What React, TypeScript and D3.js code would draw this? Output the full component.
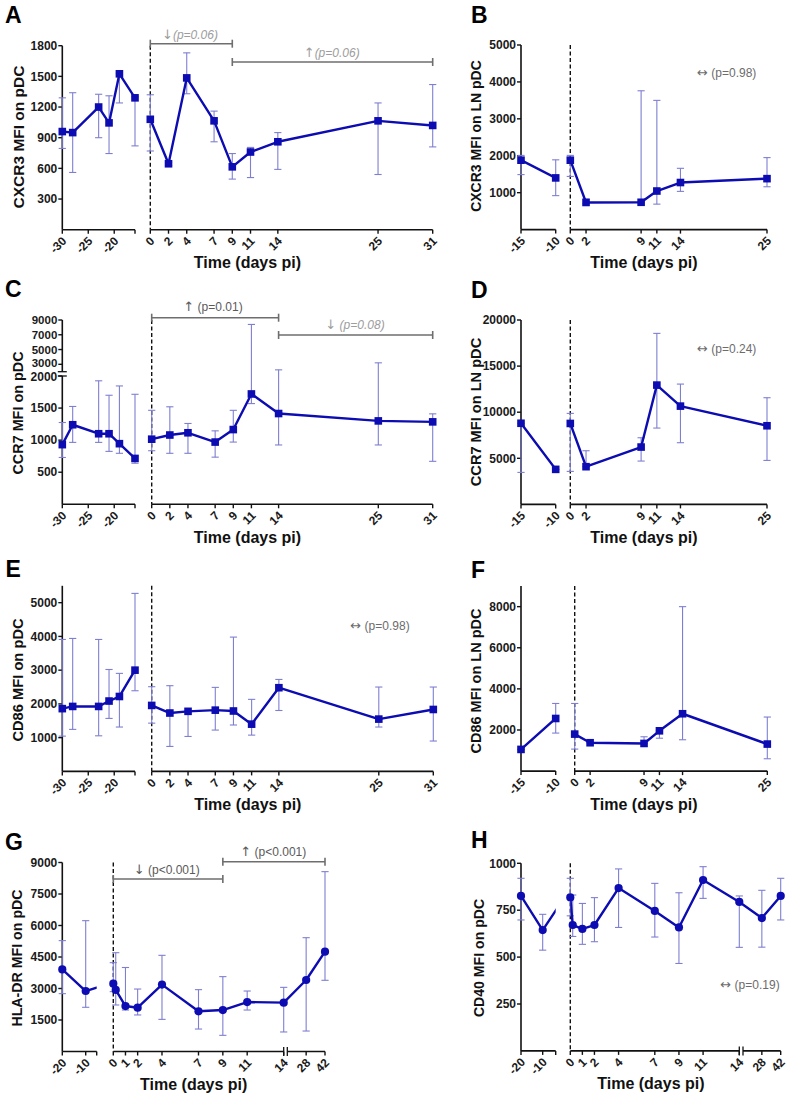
import React from "react";
import * as d3 from "d3";

// ---------------- time points & tick labels ----------------
const timesLong = [-30, -28, -23, -21, -19, -16, 0, 2, 4, 7, 9, 11, 14, 25, 31];
const timesLN = [-15, -10, 0, 2, 9, 11, 14, 25];
const timesGH = [-20, -10, 0, 0.2, 1, 2, 4, 7, 9, 11, 14, 28, 42];

const ticksPreLong = [-30, -25, -20];
const ticksPostLong = [0, 2, 4, 7, 9, 11, 14, 25, 31];
const ticksPreLN = [-15, -10];
const ticksPostLN = [0, 2, 9, 11, 14, 25];
const ticksPreGH = [-20, -10];
const ticksPostGH = [0, 1, 2, 4, 7, 9, 11, 14];
const ticksLateGH = [28, 42];

// ---------------- y ticks ----------------
const yTicksA = [300, 600, 900, 1200, 1500, 1800];
const yTicksB = [1000, 2000, 3000, 4000, 5000];
const yTicksCLow = [500, 1000, 1500, 2000];
const yTicksCHigh = [3000, 5000, 7000, 9000];
const yTicksD = [5000, 10000, 15000, 20000];
const yTicksE = [1000, 2000, 3000, 4000, 5000];
const yTicksF = [2000, 4000, 6000, 8000];
const yTicksG = [1500, 3000, 4500, 6000, 7500, 9000];
const yTicksH = [250, 500, 750, 1000];

// ---------------- A: CXCR3 MFI on pDC ----------------
const cxcr3Mean = [960, 950, 1200, 1045, 1525, 1290, 1080, 645, 1485, 1065, 615, 760, 860, 1065, 1020];
const cxcr3Upper = [1290, 1340, 1325, 1310, 1530, 1300, 1320, 660, 1730, 1160, 745, 805, 950, 1240, 1420];
const cxcr3Lower = [795, 560, 900, 745, 1240, 820, 770, 630, 1330, 860, 495, 510, 590, 540, 810];

// ---------------- B: CXCR3 MFI on LN pDC ----------------
const cxcr3LNMean = [1880, 1400, 1880, 735, 740, 1045, 1275, 1380];
const cxcr3LNUpper = [2010, 1890, 2010, 830, 3760, 3500, 1660, 1950];
const cxcr3LNLower = [1490, 920, 1440, 700, 740, 690, 1035, 1160];

// ---------------- C: CCR7 MFI on pDC ----------------
const ccr7Mean = [930, 1240, 1100, 1100, 945, 715, 1015, 1080, 1115, 970, 1165, 1720, 1415, 1300, 1285];
const ccr7Upper = [1275, 1525, 1925, 1700, 1845, 1715, 1465, 1520, 1260, 1145, 1465, 8400, 2250, 3200, 1410];
const ccr7Lower = [730, 965, 965, 825, 795, 640, 835, 795, 795, 735, 970, 1570, 925, 925, 670];

// ---------------- D: CCR7 MFI on LN pDC ----------------
const ccr7LNMean = [8800, 3800, 8780, 4090, 6220, 12940, 10660, 8530];
const ccr7LNUpper = [8800, 3800, 9870, 5820, 7230, 18550, 13050, 11570];
const ccr7LNLower = [3470, 3800, 3580, 4090, 4700, 8280, 6690, 4770];

// ---------------- E: CD86 MFI on pDC ----------------
const cd86Mean = [1860, 1925, 1925, 2085, 2220, 3000, 1955, 1730, 1780, 1815, 1790, 1400, 2480, 1550, 1835];
const cd86Upper = [3910, 3940, 3910, 3020, 2905, 5275, 2510, 2540, 1780, 2490, 3980, 2135, 2725, 2500, 2500];
const cd86Lower = [1045, 1245, 1055, 1570, 1315, 2390, 1430, 740, 1035, 1225, 1375, 1075, 1805, 1315, 900];

// ---------------- F: CD86 MFI on LN pDC ----------------
const cd86LNMean = [1055, 2560, 1800, 1380, 1345, 1960, 2790, 1315];
const cd86LNUpper = [1055, 3290, 3290, 1380, 1670, 1960, 8000, 2630];
const cd86LNLower = [1055, 1850, 1070, 1380, 1345, 1600, 1525, 600];

// ---------------- G: HLA-DR MFI on pDC ----------------
const hladrMean = [3910, 2880, 3230, 2930, 2165, 2085, 3185, 1915, 1975, 2355, 2325, 3405, 4755];
const hladrUpper = [5280, 6230, 4230, 4705, 4000, 2975, 4580, 2945, 3565, 2880, 3055, 5420, 8565];
const hladrLower = [2755, 2105, 2850, 2215, 1975, 1740, 1530, 1070, 770, 1975, 930, 975, 3390];

// ---------------- H: CD40 MFI on pDC ----------------
const cd40Mean = [826, 644, 818, 671, 650, 671, 868, 746, 658, 911, 794, 708, 826];
const cd40Upper = [920, 728, 920, 831, 786, 817, 970, 893, 843, 982, 826, 856, 920];
const cd40Lower = [698, 537, 720, 610, 568, 582, 658, 607, 466, 813, 552, 553, 698];

// ---------------- styles ----------------
const FONT = "'Liberation Sans', Arial, Helvetica, sans-serif";
const ARROW_FONT = "'DejaVu Sans', sans-serif";
const LINE = "#0c0cb2";
const ERR = "#7f7fd2";
const AXIS = "#111";
const BR = "#6e6e6e";
const TXT_DARK = "#5a5a5a";
const TXT_LIGHT = "#9d9d9d";
const TXT_NOTE = "#6c6c6c";
const X_TITLE = "Time (days pi)";

type Seg = { domain: [number, number]; range: [number, number]; ticks: number[]; endTick?: boolean; group: number };
type YS = { domain: [number, number]; range: [number, number]; ticks: number[] };
type Bracket = { from: number; to: number; y: number; label: string; lx: number; ly: number; italic: boolean; color: string };
type Note = { text: string; x: number; y: number };
type Cfg = {
  id: string; letterX: number; letterY: number;
  yTitle: string; yTitleX: number; yTitleY: number; yTitleSize: number;
  axisX: number; axisY: number; ys: YS[]; segs: Seg[];
  times: number[]; mean: number[]; upper: number[]; lower: number[];
  marker: "square" | "circle"; xTitleX: number; xTitleY: number;
  brackets: Bracket[]; notes: Note[]; xBreak?: [number, number];
};

const makeCfgs = (): Cfg[] => [
  {
    id: "A", letterX: 5, letterY: 23, yTitle: "CXCR3 MFI on pDC", yTitleX: 23.5, yTitleY: 137, yTitleSize: 15.5,
    axisX: 62.3, axisY: 229.7,
    ys: [{ domain: [0, 1800], range: [229.7, 45.7], ticks: yTicksA }],
    segs: [
      { domain: [-30, -16], range: [62.3, 135], ticks: ticksPreLong, endTick: true, group: 0 },
      { domain: [0, 31], range: [150.3, 432.7], ticks: ticksPostLong, group: 1 },
    ],
    times: timesLong, mean: cxcr3Mean, upper: cxcr3Upper, lower: cxcr3Lower, marker: "square",
    xTitleX: 247.5, xTitleY: 268,
    brackets: [
      { from: 0, to: 9, y: 43.7, label: "↓(p=0.06)", lx: 190, ly: 39, italic: true, color: TXT_LIGHT },
      { from: 9, to: 31, y: 62, label: "↑(p=0.06)", lx: 331.7, ly: 57, italic: true, color: TXT_LIGHT },
    ],
    notes: [],
  },
  {
    id: "B", letterX: 471, letterY: 23.3, yTitle: "CXCR3 MFI on LN pDC", yTitleX: 481, yTitleY: 136, yTitleSize: 14,
    axisX: 521, axisY: 229.6,
    ys: [{ domain: [0, 5000], range: [229.6, 45], ticks: yTicksB }],
    segs: [
      { domain: [-15, -10], range: [521, 555.7], ticks: ticksPreLN, group: 0 },
      { domain: [0, 25], range: [570.3, 767], ticks: ticksPostLN, group: 1 },
    ],
    times: timesLN, mean: cxcr3LNMean, upper: cxcr3LNUpper, lower: cxcr3LNLower, marker: "square",
    xTitleX: 644, xTitleY: 268,
    brackets: [],
    notes: [{ text: "↔ (p=0.98)", x: 726.7, y: 77 }],
  },
  {
    id: "C", letterX: 5, letterY: 296.7, yTitle: "CCR7 MFI on pDC", yTitleX: 22.5, yTitleY: 413, yTitleSize: 14.4,
    axisX: 62.3, axisY: 504.3,
    ys: [
      { domain: [0, 2000], range: [504.3, 376], ticks: yTicksCLow },
      { domain: [2000, 9000], range: [371.7, 320], ticks: yTicksCHigh },
    ],
    segs: [
      { domain: [-30, -16], range: [62.3, 135], ticks: ticksPreLong, endTick: true, group: 0 },
      { domain: [0, 31], range: [151.7, 432.7], ticks: ticksPostLong, group: 1 },
    ],
    times: timesLong, mean: ccr7Mean, upper: ccr7Upper, lower: ccr7Lower, marker: "square",
    xTitleX: 247.5, xTitleY: 542.8,
    brackets: [
      { from: 0, to: 14, y: 317.7, label: "↑ (p=0.01)", lx: 213, ly: 311, italic: false, color: TXT_DARK },
      { from: 14, to: 31, y: 335, label: "↓ (p=0.08)", lx: 355, ly: 329, italic: true, color: TXT_LIGHT },
    ],
    notes: [],
  },
  {
    id: "D", letterX: 471, letterY: 298, yTitle: "CCR7 MFI on LN pDC", yTitleX: 481, yTitleY: 412, yTitleSize: 14.6,
    axisX: 521, axisY: 504.4,
    ys: [{ domain: [0, 20000], range: [504.4, 320], ticks: yTicksD }],
    segs: [
      { domain: [-15, -10], range: [521, 555.7], ticks: ticksPreLN, group: 0 },
      { domain: [0, 25], range: [570.3, 767], ticks: ticksPostLN, group: 1 },
    ],
    times: timesLN, mean: ccr7LNMean, upper: ccr7LNUpper, lower: ccr7LNLower, marker: "square",
    xTitleX: 644, xTitleY: 542.9,
    brackets: [],
    notes: [{ text: "↔ (p=0.24)", x: 726.7, y: 352.5 }],
  },
  {
    id: "E", letterX: 5.5, letterY: 576.7, yTitle: "CD86 MFI on pDC", yTitleX: 23, yTitleY: 680, yTitleSize: 14.7,
    axisX: 62.3, axisY: 771.4,
    ys: [{ domain: [0, 5500], range: [771.4, 585.8], ticks: yTicksE }],
    segs: [
      { domain: [-30, -16], range: [62.3, 135], ticks: ticksPreLong, endTick: true, group: 0 },
      { domain: [0, 31], range: [151.7, 433.3], ticks: ticksPostLong, group: 1 },
    ],
    times: timesLong, mean: cd86Mean, upper: cd86Upper, lower: cd86Lower, marker: "square",
    xTitleX: 247.8, xTitleY: 809.5,
    brackets: [],
    notes: [{ text: "↔ (p=0.98)", x: 380, y: 629.5 }],
  },
  {
    id: "F", letterX: 471, letterY: 578, yTitle: "CD86 MFI on LN pDC", yTitleX: 481, yTitleY: 681, yTitleSize: 14.5,
    axisX: 521, axisY: 771.1,
    ys: [{ domain: [0, 9000], range: [771.1, 586.1], ticks: yTicksF }],
    segs: [
      { domain: [-15, -10], range: [521, 555.7], ticks: ticksPreLN, group: 0 },
      { domain: [0, 25], range: [574.7, 767.3], ticks: ticksPostLN, group: 1 },
    ],
    times: timesLN, mean: cd86LNMean, upper: cd86LNUpper, lower: cd86LNLower, marker: "square",
    xTitleX: 644, xTitleY: 809.5,
    brackets: [],
    notes: [],
  },
  {
    id: "G", letterX: 5, letterY: 850, yTitle: "HLA-DR MFI on pDC", yTitleX: 21.5, yTitleY: 958, yTitleSize: 14.2,
    axisX: 62.3, axisY: 1051.5,
    ys: [{ domain: [0, 9000], range: [1051.5, 862.5], ticks: yTicksG }],
    segs: [
      { domain: [-20, -5.3], range: [62.3, 96.7], ticks: ticksPreGH, endTick: true, group: 0 },
      { domain: [0, 14], range: [113.3, 283.7], ticks: ticksPostGH, group: 1 },
      { domain: [14, 42], range: [287.3, 325], ticks: ticksLateGH, group: 1 },
    ],
    xBreak: [283.7, 287.3],
    times: timesGH, mean: hladrMean, upper: hladrUpper, lower: hladrLower, marker: "circle",
    xTitleX: 193.7, xTitleY: 1090,
    brackets: [
      { from: 0, to: 9, y: 879, label: "↓ (p<0.001)", lx: 166.7, ly: 873.5, italic: false, color: TXT_DARK },
      { from: 9, to: 42, y: 861.7, label: "↑ (p<0.001)", lx: 273.3, ly: 855.5, italic: false, color: TXT_DARK },
    ],
    notes: [],
  },
  {
    id: "H", letterX: 471, letterY: 848, yTitle: "CD40 MFI on pDC", yTitleX: 483.5, yTitleY: 958, yTitleSize: 14.1,
    axisX: 521, axisY: 1050.9,
    ys: [{ domain: [0, 1000], range: [1050.9, 863.3], ticks: yTicksH }],
    segs: [
      { domain: [-20, -4], range: [521, 555.7], ticks: ticksPreGH, endTick: true, group: 0 },
      { domain: [0, 14], range: [570.3, 739.3], ticks: ticksPostGH, group: 1 },
      { domain: [14, 42], range: [743, 780.7], ticks: ticksLateGH, group: 1 },
    ],
    xBreak: [739.3, 743],
    times: timesGH, mean: cd40Mean, upper: cd40Upper, lower: cd40Lower, marker: "circle",
    xTitleX: 650.9, xTitleY: 1089.4,
    brackets: [],
    notes: [{ text: "↔ (p=0.19)", x: 750, y: 989 }],
  },
];

function Label({ text, x, y, italic, color }: { text: string; x: number; y: number; italic: boolean; color: string }) {
  const arrow = text.charAt(0);
  const rest = text.slice(1);
  return (
    <text x={x} y={y} textAnchor="middle" fontSize={12} fontStyle={italic ? "italic" : "normal"} fill={color}>
      <tspan fontFamily={ARROW_FONT} fontSize={13}>{arrow}</tspan>
      <tspan>{rest}</tspan>
    </text>
  );
}

function Panel({ cfg }: { cfg: Cfg }) {
  const segScales = cfg.segs.map((s) => d3.scaleLinear().domain(s.domain).range(s.range));
  const yScales = cfg.ys.map((s) => d3.scaleLinear().domain(s.domain).range(s.range));
  const segIdx = (t: number) => cfg.segs.findIndex((s) => t >= s.domain[0] - 1e-9 && t <= s.domain[1] + 1e-9);
  const xOf = (t: number) => segScales[segIdx(t)](t);
  const yOf = (v: number) => {
    for (let i = 0; i < cfg.ys.length; i++) {
      if (v <= cfg.ys[i].domain[1] || i === cfg.ys.length - 1) return yScales[i](v);
    }
    return 0;
  };

  const pts = cfg.times.map((t, i) => ({
    t, x: xOf(t), y: yOf(cfg.mean[i]), yu: yOf(cfg.upper[i]), yl: yOf(cfg.lower[i]),
    g: cfg.segs[segIdx(t)].group,
  }));
  const groupIds = Array.from(new Set(pts.map((p) => p.g))).sort((a, b) => a - b);
  const line = d3.line<[number, number]>().x((d) => d[0]).y((d) => d[1]);

  const paths = groupIds.map((g, gi) => {
    const gp = pts.filter((p) => p.g === g);
    const segsG = cfg.segs.map((s, i) => ({ s, i })).filter((o) => o.s.group === g);
    const firstScale = segScales[segsG[0].i];
    const lastScale = segScales[segsG[segsG.length - 1].i];
    const coords: [number, number][] = gp.map((p) => [p.x, p.y]);
    if (gi > 0) {
      const prev = pts.filter((p) => p.g === groupIds[gi - 1]);
      const P = prev[prev.length - 1];
      coords.unshift([firstScale(P.t), P.y]);
    }
    if (gi < groupIds.length - 1) {
      const next = pts.filter((p) => p.g === groupIds[gi + 1]);
      const Q = next[0];
      coords.push([lastScale(Q.t), Q.y]);
    }
    const x0 = gi === 0 ? 0 : segsG[0].s.range[0];
    const x1 = segsG[segsG.length - 1].s.range[1];
    return { d: line(coords) || "", x0, x1, key: g };
  });

  const xZero = xOf(0);
  const yTop = cfg.ys[cfg.ys.length - 1].range[1];
  const cap = 3.6;
  const broken = cfg.ys.length > 1;

  return (
    <g fontFamily={FONT}>
      <defs>
        {paths.map((p) => (
          <clipPath id={`clip-${cfg.id}-${p.key}`} key={p.key}>
            <rect x={p.x0} y={0} width={p.x1 - p.x0} height={1100} />
          </clipPath>
        ))}
      </defs>
      {/* panel letter */}
      <text x={cfg.letterX} y={cfg.letterY} fontSize={23} fontWeight="bold" fill="#000">{cfg.id}</text>

      {/* y title */}
      <text transform={`translate(${cfg.yTitleX},${cfg.yTitleY}) rotate(-90)`} textAnchor="middle"
        fontSize={cfg.yTitleSize} fontWeight="bold" fill="#111">{cfg.yTitle}</text>

      {/* y axis */}
      {cfg.ys.map((s, i) => (
        <g key={i}>
          <line x1={cfg.axisX} x2={cfg.axisX} y1={s.range[0]} y2={s.range[1]} stroke={AXIS} strokeWidth={1.6} />
          {s.ticks.map((t) => {
            const ty = yScales[i](t);
            let nudge = 0;
            if (broken && i === 0 && t === s.domain[1]) nudge = 1.2;
            if (broken && i === 1 && t === s.ticks[0]) nudge = -1.2;
            return (
              <g key={t}>
                <line x1={cfg.axisX - 4} x2={cfg.axisX} y1={ty} y2={ty} stroke={AXIS} strokeWidth={1.4} />
                <text x={cfg.axisX - 5} y={ty + 4.2 + nudge} textAnchor="end" fontSize={broken && i === 1 ? 11.5 : 12}
                  fontWeight="bold" fill="#1a1a1a">{t}</text>
              </g>
            );
          })}
        </g>
      ))}
      {broken &&
        cfg.ys.slice(1).map((s, i) => (
          <g key={`b${i}`}>
            <line x1={cfg.axisX - 4.5} x2={cfg.axisX + 4.5} y1={cfg.ys[i].range[1]} y2={cfg.ys[i].range[1]} stroke={AXIS} strokeWidth={1.3} />
            <line x1={cfg.axisX - 4.5} x2={cfg.axisX + 4.5} y1={s.range[0]} y2={s.range[0]} stroke={AXIS} strokeWidth={1.3} />
          </g>
        ))}

      {/* x axis */}
      {cfg.segs.map((s, i) => (
        <g key={i}>
          <line x1={s.range[0]} x2={s.range[1]} y1={cfg.axisY} y2={cfg.axisY} stroke={AXIS} strokeWidth={1.6} />
          {s.endTick && (
            <line x1={s.range[1]} x2={s.range[1]} y1={cfg.axisY} y2={cfg.axisY + 4} stroke={AXIS} strokeWidth={1.4} />
          )}
          {s.ticks.map((t) => {
            const x = segScales[i](t);
            return (
              <g key={t}>
                <line x1={x} x2={x} y1={cfg.axisY} y2={cfg.axisY + 4} stroke={AXIS} strokeWidth={1.4} />
                <text transform={`translate(${x + 5},${cfg.axisY + 12}) rotate(-45)`} textAnchor="end"
                  fontSize={12} fontWeight="bold" fill="#1a1a1a">{t}</text>
              </g>
            );
          })}
        </g>
      ))}
      {cfg.xBreak &&
        cfg.xBreak.map((bx) => (
          <line key={bx} x1={bx} x2={bx} y1={cfg.axisY - 4.5} y2={cfg.axisY + 4.5} stroke={AXIS} strokeWidth={1.3} />
        ))}
      <text x={cfg.xTitleX} y={cfg.xTitleY} textAnchor="middle" fontSize={16} fontWeight="bold" fill="#111">{X_TITLE}</text>

      {/* dashed day-0 line */}
      <line x1={xZero} x2={xZero} y1={yTop} y2={cfg.axisY} stroke="#111" strokeWidth={1.4} strokeDasharray="4,2.5" />

      {/* brackets */}
      {cfg.brackets.map((b, i) => {
        const x1 = xOf(b.from);
        const x2 = xOf(b.to);
        return (
          <g key={i}>
            <line x1={x1} x2={x2} y1={b.y} y2={b.y} stroke={BR} strokeWidth={1.6} />
            <line x1={x1} x2={x1} y1={b.y - 4} y2={b.y + 4} stroke={BR} strokeWidth={1.6} />
            <line x1={x2} x2={x2} y1={b.y - 4} y2={b.y + 4} stroke={BR} strokeWidth={1.6} />
            <Label text={b.label} x={b.lx} y={b.ly} italic={b.italic} color={b.color} />
          </g>
        );
      })}
      {cfg.notes.map((n, i) => (
        <Label key={i} text={n.text} x={n.x} y={n.y} italic={false} color={TXT_NOTE} />
      ))}

      {/* error bars */}
      {pts.map((p, i) => (
        <g key={i} stroke={ERR} strokeWidth={1.1}>
          <line x1={p.x} x2={p.x} y1={p.yl} y2={p.yu} />
          <line x1={p.x - cap} x2={p.x + cap} y1={p.yu} y2={p.yu} />
          <line x1={p.x - cap} x2={p.x + cap} y1={p.yl} y2={p.yl} />
        </g>
      ))}

      {/* lines */}
      {paths.map((p) => (
        <path key={p.key} d={p.d} fill="none" stroke={LINE} strokeWidth={2.4} strokeLinejoin="round"
          clipPath={`url(#clip-${cfg.id}-${p.key})`} />
      ))}

      {/* markers */}
      {pts.map((p, i) =>
        cfg.marker === "square" ? (
          <rect key={i} x={p.x - 3.8} y={p.y - 3.8} width={7.6} height={7.6} fill={LINE} />
        ) : (
          <circle key={i} cx={p.x} cy={p.y} r={4.1} fill={LINE} />
        )
      )}
    </g>
  );
}

export default function App() {
  const cfgs = makeCfgs();
  return (
    <svg width={790} height={1100} viewBox="0 0 790 1100"
      style={{ position: "absolute", left: 0, top: 0, background: "#fff" }}>
      <rect x={0} y={0} width={790} height={1100} fill="#fff" />
      {cfgs.map((c) => (
        <Panel key={c.id} cfg={c} />
      ))}
    </svg>
  );
}
